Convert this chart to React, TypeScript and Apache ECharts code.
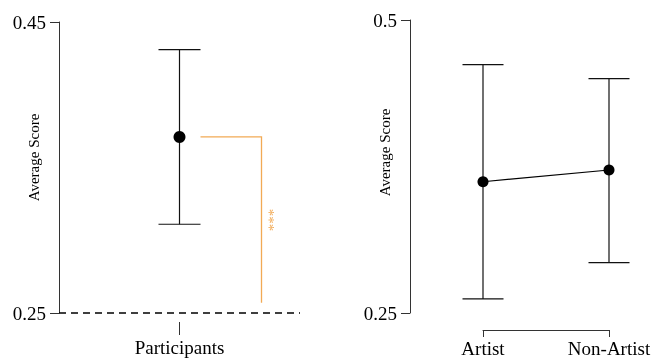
import React, { useEffect, useRef } from "react";
import * as echarts from "echarts";

const leftCats = ["Participants"];
const leftMean = [0.371];
const leftLow = [0.311];
const leftHigh = [0.431];
const leftTicks = [0.25, 0.45];

const rightCats = ["Artist", "Non-Artist"];
const rightMean = [0.362, 0.372];
const rightLow = [0.262, 0.293];
const rightHigh = [0.462, 0.45];
const rightTicks = [0.25, 0.5];

const sigRange = [0.371, 0.257];
const sigLabel = "***";
const baseline = 0.25;

const FONT = "Liberation Serif, Times New Roman, serif";
const ORANGE = "#f2aa55";

const errRender = (half: number) => (params: any, api: any) => {
  const x = api.value(0);
  const lo = api.coord([x, api.value(1)]);
  const hi = api.coord([x, api.value(2)]);
  const st = { stroke: "#111", lineWidth: 1.2 };
  return {
    type: "group",
    children: [
      { type: "line", shape: { x1: lo[0], y1: lo[1], x2: hi[0], y2: hi[1] }, style: st },
      { type: "line", shape: { x1: lo[0] - half, y1: lo[1], x2: lo[0] + half, y2: lo[1] }, style: st },
      { type: "line", shape: { x1: hi[0] - half, y1: hi[1], x2: hi[0] + half, y2: hi[1] }, style: st },
    ],
  };
};

export default function App() {
  const ref = useRef<HTMLDivElement>(null);
  useEffect(() => {
    if (!ref.current) return;
    const chart = echarts.init(ref.current, null, { renderer: "svg" });
    const yAxisBase = (ticks: number[], pad: number) => ({
      type: "value",
      min: ticks[0],
      max: ticks[ticks.length - 1],
      name: "Average Score",
      nameLocation: "middle",
      nameGap: 18,
      nameMoveOverlap: false,
      nameTextStyle: { fontFamily: FONT, fontSize: 15, color: "#000", padding: [0, 0, 0, pad] },
      axisLine: { show: true, lineStyle: { color: "#333", width: 1 } },
      axisTick: { show: true, length: 9, customValues: ticks, lineStyle: { color: "#333" } },
      axisLabel: {
        show: true,
        customValues: ticks,
        margin: 13,
        fontFamily: FONT,
        fontSize: 19,
        color: "#000",
        formatter: (v: number) => String(v),
      },
      splitLine: { show: false },
    });
    chart.setOption({
      animation: false,
      grid: [
        { left: 59, top: 22, width: 241, height: 291, containLabel: false, outerBoundsMode: "none" },
        { left: 483, top: 20, width: 126, height: 293, containLabel: false, outerBoundsMode: "none" },
      ],
      xAxis: [
        {
          type: "category",
          gridIndex: 0,
          data: leftCats,
          offset: 9,
          axisLine: { show: false },
          axisTick: { show: true, length: 13, alignWithLabel: true, lineStyle: { color: "#333" } },
          axisLabel: { margin: 16, fontFamily: FONT, fontSize: 19, color: "#000" },
          splitLine: { show: false },
        },
        {
          type: "category",
          gridIndex: 1,
          data: rightCats,
          boundaryGap: false,
          offset: 17,
          axisLine: { show: true, lineStyle: { color: "#333", width: 1 } },
          axisTick: { show: true, length: 7, lineStyle: { color: "#333" } },
          axisLabel: { margin: 9, fontFamily: FONT, fontSize: 19, color: "#000" },
          splitLine: { show: false },
        },
      ],
      yAxis: [
        { ...yAxisBase(leftTicks, 20), gridIndex: 0 },
        { ...yAxisBase(rightTicks, 28), gridIndex: 1, offset: 73 },
      ],
      series: [
        {
          type: "custom",
          xAxisIndex: 0,
          yAxisIndex: 0,
          renderItem: errRender(21),
          data: leftMean.map((_, i) => [i, leftLow[i], leftHigh[i]]),
          z: 2,
        },
        {
          type: "scatter",
          xAxisIndex: 0,
          yAxisIndex: 0,
          data: leftMean.map((m, i) => [i, m]),
          symbolSize: 12,
          itemStyle: { color: "#000", opacity: 1 },
          z: 3,
          markLine: {
            silent: true,
            symbol: "none",
            label: { show: false },
            lineStyle: { color: "#000", type: [7, 5], width: 1.5 },
            data: [{ yAxis: baseline }],
          },
        },
        {
          type: "custom",
          xAxisIndex: 0,
          yAxisIndex: 0,
          data: [[0, sigRange[0], sigRange[1]]],
          renderItem: (params: any, api: any) => {
            const top = api.coord([api.value(0), api.value(1)]);
            const bot = api.coord([api.value(0), api.value(2)]);
            return {
              type: "group",
              children: [
                {
                  type: "polyline",
                  shape: { points: [[top[0] + 21, top[1]], [top[0] + 82, top[1]], [top[0] + 82, bot[1]]] },
                  style: { stroke: ORANGE, lineWidth: 1.3, fill: "none" },
                },
                {
                  type: "text",
                  x: top[0] + 89,
                  y: (top[1] + bot[1]) / 2,
                  rotation: -Math.PI / 2,
                  style: {
                    text: sigLabel,
                    fill: ORANGE,
                    fontSize: 15,
                    fontFamily: FONT,
                    align: "center",
                    verticalAlign: "middle",
                  },
                },
              ],
            };
          },
          z: 1,
        },
        {
          type: "custom",
          xAxisIndex: 1,
          yAxisIndex: 1,
          renderItem: errRender(20.5),
          data: rightMean.map((_, i) => [i, rightLow[i], rightHigh[i]]),
          z: 2,
        },
        {
          type: "line",
          xAxisIndex: 1,
          yAxisIndex: 1,
          data: rightMean,
          symbol: "circle",
          symbolSize: 11,
          itemStyle: { color: "#000" },
          lineStyle: { color: "#000", width: 1.2 },
          z: 3,
        },
      ],
    });
    return () => chart.dispose();
  }, []);
  return <div ref={ref} style={{ position: "fixed", left: 0, top: 0, width: 662, height: 358 }} />;
}
